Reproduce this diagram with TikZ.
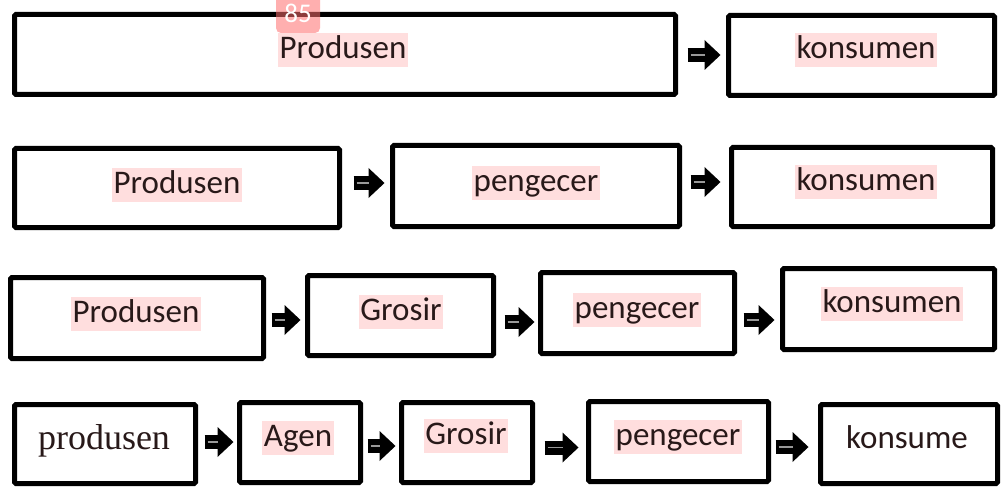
\documentclass[tikz,border=0pt]{standalone}
\usepackage{fontspec}
\setmainfont{Carlito}
\newfontfamily\tnr{Liberation Serif}
\usetikzlibrary{arrows.meta,calc}
\definecolor{hl}{RGB}{255,222,222}
\definecolor{txt}{RGB}{40,25,25}
\definecolor{badgecol}{RGB}{255,110,110}
\tikzset{
  box/.style={draw=black, line width=5pt, rounded corners=1.5pt, inner sep=0pt, fill=white},
  lbl/.style={fill=hl, text=txt, inner xsep=1.5pt, inner ysep=1pt, text height=24.5pt, text depth=8pt,
              font=\fontsize{33}{38}\selectfont},
  plainlbl/.style={text=txt, inner sep=1pt, text height=24pt, text depth=8pt},
  blockarrow/.style={line width=14pt, black, -{Triangle[length=16pt,width=30pt,line width=0pt]}},
  arrowcore/.style={line width=1.5pt, black!40},
  badge/.style={fill=badgecol, fill opacity=0.55, text opacity=1, text=white, rounded corners=5pt,
                minimum width=44pt, minimum height=40pt, inner sep=0pt, font=\fontsize{27}{29}\selectfont}
}
\newcommand\bx[5]{%
  \node[box, minimum width={(#4-#2-5)*1pt}, minimum height={(#5-#3-5)*1pt}] (#1) at ({(#2+#4)/2},{(#3+#5)/2}) {};}
\newcommand\arr[5]{%
  \coordinate (#1-#2-s) at ([shift={(#3,#4)}]#1.east);
  \coordinate (#1-#2-e) at ([xshift=-#5pt]#1-#2-s -| #2.west);
  \draw[blockarrow] (#1-#2-s) -- (#1-#2-e);
  \draw[arrowcore] ([xshift=3pt]#1-#2-s) -- ([xshift=-16pt]#1-#2-e);}
\begin{document}
\begin{tikzpicture}[x=1pt,y=-1pt]
\fill[white] (0,0) rectangle (1003,489);
\useasboundingbox (0,0) rectangle (1003,489);
% boxes
\bx{pA}{12}{12}{678}{97}
\bx{kA}{726}{13}{997}{98}
\bx{p2}{12}{146}{342}{230}
\bx{g2}{390}{143}{682}{229}
\bx{k2}{729}{145}{995}{229}
\bx{p3}{8}{275}{266}{361}
\bx{gr3}{305}{273}{496}{358}
\bx{pe3}{538}{270}{737}{356}
\bx{k3}{780}{266}{997}{352}
\bx{p4}{12}{402}{198}{486}
\bx{a4}{237}{400}{363}{485}
\bx{gr4}{399}{400}{535}{485}
\bx{pe4}{586}{399}{771}{484}
\bx{k4}{818}{402}{1000}{486}
% labels
\node[lbl] (tpA) at (343,50) {Produsen};
\node[lbl] (tkA) at (866,50) {konsumen};
\node[lbl] (tp2) at (177,185) {Produsen};
\node[lbl] (tg2) at (536,183) {pengecer};
\node[lbl] (tk2) at (866,182) {konsumen};
\node[lbl] (tp3) at (136,314) {Produsen};
\node[lbl] (tgr3) at (401,312) {Grosir};
\node[lbl] (tpe3) at (637,310) {pengecer};
\node[lbl] (tk3) at (892,304) {konsumen};
\node[plainlbl, font=\tnr\fontsize{36}{40}\selectfont] (tp4) at (104,441) {produsen};
\node[lbl] (ta4) at (298,438) {Agen};
\node[lbl] (tgr4) at (466,436) {Grosir};
\node[lbl] (tpe4) at (678,437) {pengecer};
\node[plainlbl, font=\fontsize{33}{38}\selectfont] (tk4) at (907,440) {konsume};
% arrows
\arr{pA}{kA}{9.5}{0.5}{5.5}
\arr{p2}{g2}{11.5}{-5}{5.5}
\arr{g2}{k2}{8.5}{-4}{8.5}
\arr{p3}{gr3}{5.5}{2}{4.5}
\arr{gr3}{pe3}{8.5}{6.5}{3.5}
\arr{pe3}{k3}{6.5}{7}{5.5}
\arr{p4}{a4}{6.5}{-2}{3.5}
\arr{a4}{gr4}{4.5}{3.5}{3.5}
\arr{gr4}{pe4}{9.5}{5}{7.5}
\arr{pe4}{k4}{4.5}{5.5}{9.5}
% badge
\node[badge] (tag) at (298,13) {85};
\end{tikzpicture}
\end{document}
